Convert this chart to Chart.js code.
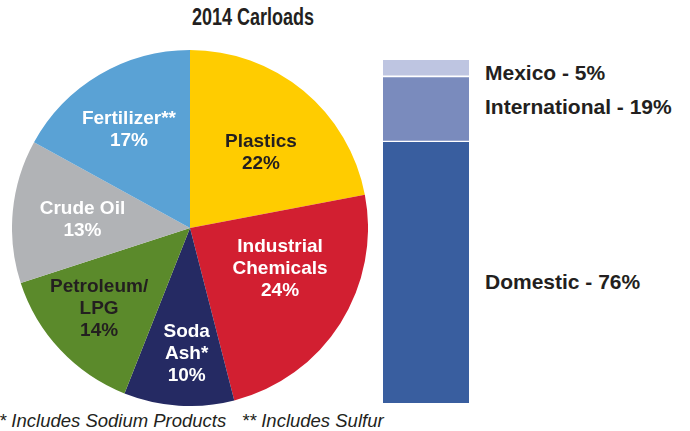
<!DOCTYPE html>
<html>
<head>
<meta charset="utf-8">
<script src="https://cdn.jsdelivr.net/npm/chart.js@4"></script>
<style>
  body { margin: 0; background: #fff; }
  #wrap { position: relative; width: 690px; height: 431px; overflow: hidden; font-family: 'Liberation Sans', Arial, sans-serif; color: #231f20; }
  #title { position: absolute; left: 0; width: 506px; top: 3px; text-align: center; font: bold 24px 'Liberation Sans', Arial, sans-serif; transform: scaleX(0.75); transform-origin: 253px 0; }
  #pieCanvas { position: absolute; left: 12px; top: 50px; }
  #barCanvas { position: absolute; left: 383px; top: 60px; }
  #notes { position: absolute; left: -1px; top: 410px; font: italic 18.5px 'Liberation Sans', Arial, sans-serif; white-space: pre; }
</style>
</head>
<body>
<div id="wrap">
  <div id="title">2014 Carloads</div>
  <canvas id="pieCanvas" width="356" height="356"></canvas>
  <canvas id="barCanvas" width="86" height="343"></canvas>
  <div id="notes">* Includes Sodium Products   ** Includes Sulfur</div>
</div>
<script>
// commodity split (pie), clockwise from 12 o'clock
const commodities = ['Plastics', 'Industrial Chemicals', 'Soda Ash*', 'Petroleum/LPG', 'Crude Oil', 'Fertilizer**'];
const commodityLines = [['Plastics'], ['Industrial', 'Chemicals'], ['Soda', 'Ash*'], ['Petroleum/', 'LPG'], ['Crude Oil'], ['Fertilizer**']];
const commodityShare = [22, 24, 10, 14, 13, 17];
const commodityColors = ['#ffcc00', '#d21f31', '#252a63', '#5b8a2b', '#b1b3b6', '#5aa2d5'];
const commodityTextColors = ['#231f20', '#ffffff', '#ffffff', '#231f20', '#ffffff', '#ffffff'];

// destination split (stacked bar), bottom to top
const destinations = ['Domestic', 'International', 'Mexico'];
const destinationShare = [76, 19, 5];
const destinationColors = ['#395e9f', '#7a8bbd', '#bec5e1'];

// label placement tweaks: radius as fraction of pie radius, angle nudge in degrees
const pieLabelRadius = [0.58, 0.556, 0.705, 0.684, 0.606, 0.651];
const pieLabelNudge = [3.8, -7.9, -2.1, 1.5, -1.1, -1.2];
const barLabelNudge = [9, -3, 4];

const pieLabels = {
  id: 'pieLabels',
  afterDatasetsDraw(chart) {
    const ctx = chart.ctx;
    const arcs = chart.getDatasetMeta(0).data;
    ctx.save();
    ctx.font = "bold 19px 'Liberation Sans', Arial, sans-serif";
    ctx.textAlign = 'center';
    ctx.textBaseline = 'middle';
    arcs.forEach((arc, i) => {
      const p = arc.getProps(['x', 'y', 'startAngle', 'endAngle', 'outerRadius'], true);
      const a = (p.startAngle + p.endAngle) / 2 + pieLabelNudge[i] * Math.PI / 180;
      const r = p.outerRadius * pieLabelRadius[i];
      const lines = commodityLines[i].concat([commodityShare[i] + '%']);
      const lh = 22;
      const cx = p.x + r * Math.cos(a);
      const cy = p.y + r * Math.sin(a) - (lines.length - 1) * lh / 2;
      ctx.fillStyle = commodityTextColors[i];
      lines.forEach((t, j) => ctx.fillText(t, cx, cy + j * lh));
    });
    ctx.restore();
  }
};

new Chart(document.getElementById('pieCanvas'), {
  type: 'pie',
  data: {
    labels: commodities,
    datasets: [{ data: commodityShare, backgroundColor: commodityColors, borderWidth: 0 }]
  },
  options: {
    responsive: false,
    animation: false,
    layout: { padding: 0 },
    plugins: { legend: { display: false }, tooltip: { enabled: false } }
  },
  plugins: [pieLabels]
});

// labels to the right of the stacked bar
const barLabels = {
  id: 'barLabels',
  afterDraw(chart) {
    const wrap = document.getElementById('wrap');
    chart.data.datasets.forEach((ds, i) => {
      const bar = chart.getDatasetMeta(i).data[0];
      const midY = (bar.y + bar.base) / 2 + barLabelNudge[i];
      const el = document.createElement('div');
      el.textContent = destinations[i] + ' - ' + destinationShare[i] + '%';
      el.style.position = 'absolute';
      el.style.left = '485px';
      el.style.top = (60 + midY - 13) + 'px';
      el.style.font = "bold 21px 'Liberation Sans', Arial, sans-serif";
      el.style.lineHeight = '26px';
      el.style.whiteSpace = 'nowrap';
      wrap.appendChild(el);
    });
  }
};

new Chart(document.getElementById('barCanvas'), {
  type: 'bar',
  data: {
    labels: ['2014'],
    datasets: destinations.map((name, i) => ({
      label: name,
      data: [destinationShare[i]],
      backgroundColor: destinationColors[i],
      borderColor: '#ffffff',
      borderWidth: i === 0 ? 0 : { top: 0, left: 0, right: 0, bottom: 2 },
      borderSkipped: false,
      barPercentage: 1,
      categoryPercentage: 1
    }))
  },
  options: {
    responsive: false,
    animation: false,
    layout: { padding: 0 },
    scales: {
      x: { stacked: true, display: false },
      y: { stacked: true, display: false, min: 0, max: 100 }
    },
    plugins: { legend: { display: false }, tooltip: { enabled: false } }
  },
  plugins: [barLabels]
});
</script>
</body>
</html>
